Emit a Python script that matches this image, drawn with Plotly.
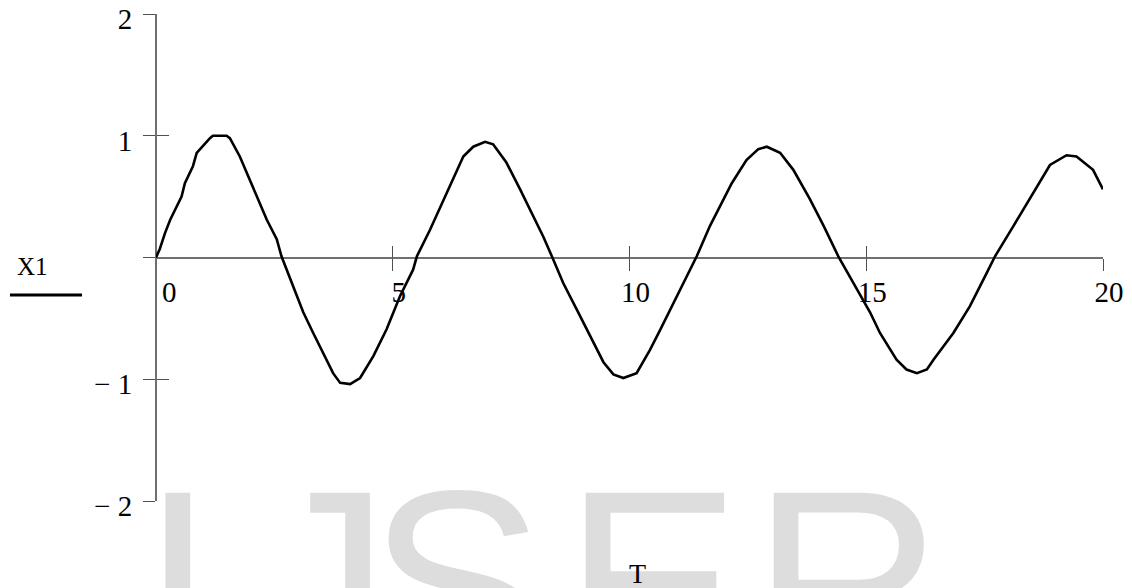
import plotly.graph_objects as go

# Data
T = [0.00, 0.08, 0.19, 0.30, 0.54, 0.61, 0.78, 0.86, 1.14, 1.20, 1.49, 1.56, 1.77, 1.91,
     2.13, 2.34, 2.55, 2.65, 2.90, 3.11, 3.32, 3.53, 3.74, 3.89, 4.10, 4.31, 4.59, 4.87,
     5.15, 5.43, 5.51, 5.79, 6.14, 6.49, 6.70, 6.95, 7.12, 7.40, 7.69, 7.97, 8.18, 8.36,
     8.60, 8.89, 9.17, 9.45, 9.66, 9.87, 10.15, 10.43, 10.64, 10.79, 10.93, 11.07, 11.21,
     11.42, 11.70, 11.91, 12.16, 12.47, 12.72, 12.90, 13.18, 13.46, 13.81, 14.10, 14.41,
     14.73, 15.08, 15.29, 15.64, 15.85, 16.07, 16.28, 16.42, 16.84, 17.19, 17.54, 17.72,
     18.11, 18.53, 18.88, 19.23, 19.44, 19.79, 20.00]
X1 = [0.00, 0.07, 0.20, 0.31, 0.50, 0.61, 0.75, 0.86, 0.98, 1.00, 1.00, 0.98, 0.83, 0.70,
      0.50, 0.31, 0.15, 0.01, -0.24, -0.45, -0.62, -0.78, -0.95, -1.03, -1.04, -0.99, -0.81, -0.59,
      -0.32, -0.10, 0.01, 0.23, 0.53, 0.83, 0.91, 0.95, 0.93, 0.78, 0.56, 0.34, 0.17, 0.01,
      -0.21, -0.43, -0.65, -0.86, -0.96, -0.99, -0.95, -0.76, -0.60, -0.48, -0.37, -0.26, -0.15,
      0.01, 0.26, 0.42, 0.61, 0.80, 0.89, 0.91, 0.86, 0.72, 0.48, 0.26, 0.01,
      -0.21, -0.45, -0.62, -0.84, -0.92, -0.95, -0.92, -0.84, -0.62, -0.40, -0.13, 0.01,
      0.26, 0.53, 0.76, 0.84, 0.83, 0.72, 0.56]

x_tickvals = [0, 5, 10, 15, 20]
x_ticktext = ["\u20020", "5", "10", "15", "20"]
y_tickvals = [-2, -1, 0, 1, 2]
y_ticktext = ["\u2212 2", "\u2212 1", "", "1", "2"]

watermark_letters = ["I", "J", "S", "E", "R"]
watermark_centers = [0.0232, 0.1774, 0.3178, 0.5238, 0.7297]   # paper x of each letter

SERIF = "Liberation Serif, Times New Roman, serif"
AXIS_GRAY = "#707070"
TICK_COL = "#505050"

fig = go.Figure()
fig.add_trace(go.Scatter(x=T, y=X1, mode="lines", line=dict(color="black", width=2.6),
                         showlegend=False, hoverinfo="skip"))
# invisible copy so that the crossing-tick overlay axes are drawn
fig.add_trace(go.Scatter(x=T, y=X1, mode="lines", xaxis="x2", yaxis="y2", opacity=0,
                         showlegend=False, hoverinfo="skip"))

fig.update_layout(
    width=1124, height=580,
    margin=dict(l=148, r=29, t=6, b=87, autoexpand=False),
    paper_bgcolor="white", plot_bgcolor="white",
    font=dict(family=SERIF, color="black"),
    xaxis=dict(range=[0, 20], anchor="free", position=0.5, showline=False, showgrid=False,
               automargin=False,
               zeroline=True, zerolinecolor=AXIS_GRAY, zerolinewidth=1.5,
               tickmode="array", tickvals=[5, 10, 15, 20],
               ticks="outside", ticklen=12, tickwidth=1.2, tickcolor=TICK_COL,
               showticklabels=False),
    yaxis=dict(range=[-2, 2], showline=False, showgrid=False, automargin=False,
               zeroline=True, zerolinecolor=AXIS_GRAY, zerolinewidth=1.5,
               tickmode="array", tickvals=y_tickvals, ticktext=y_ticktext,
               ticks="outside", ticklen=12, tickwidth=1.2, tickcolor=TICK_COL,
               tickfont=dict(size=29, family=SERIF, color="black"),
               ticklabelshift=5, ticklabelstandoff=5, ticklabeloverflow="allow"),
    xaxis2=dict(range=[0, 20], overlaying="x", anchor="free", position=0.5,
                showline=False, showgrid=False, zeroline=False, automargin=False,
                tickmode="array", tickvals=x_tickvals, ticktext=x_ticktext,
                ticks="inside", ticklen=12, tickwidth=1.2, tickcolor=TICK_COL,
                tickfont=dict(size=29, family=SERIF, color="black"),
                ticklabelshift=6, ticklabelstandoff=14, ticklabeloverflow="allow"),
    yaxis2=dict(range=[-2, 2], overlaying="y", anchor="free", position=0, side="left",
                showline=False, showgrid=False, zeroline=False, automargin=False,
                tickmode="array", tickvals=[-2, -1, 1, 2],
                ticks="inside", ticklen=12, tickwidth=1.2, tickcolor=TICK_COL,
                showticklabels=False),
    showlegend=False,
)

# watermark, one letter at a time
for letter, cx in zip(watermark_letters, watermark_centers):
    fig.add_annotation(text=letter, xref="paper", yref="paper", x=cx, y=0.139,
                       xanchor="center", yanchor="top", showarrow=False,
                       font=dict(family="Liberation Sans, Arial, sans-serif", size=265,
                                 color="#dddddd"))
# axis title
fig.add_annotation(text="T", xref="paper", yref="paper", x=0.508, y=-0.148,
                   xanchor="center", yanchor="middle", showarrow=False,
                   font=dict(family=SERIF, size=28, color="black"))
# legend text and line
fig.add_annotation(text="X1", xref="paper", yref="paper", x=-0.1299, y=0.4815,
                   xanchor="center", yanchor="middle", showarrow=False,
                   font=dict(family=SERIF, size=25, color="black"))
fig.add_shape(type="line", xref="paper", yref="paper", x0=-0.1542, x1=-0.0781,
              y0=0.423, y1=0.423, line=dict(color="black", width=3))

fig.write_html("out.html")
